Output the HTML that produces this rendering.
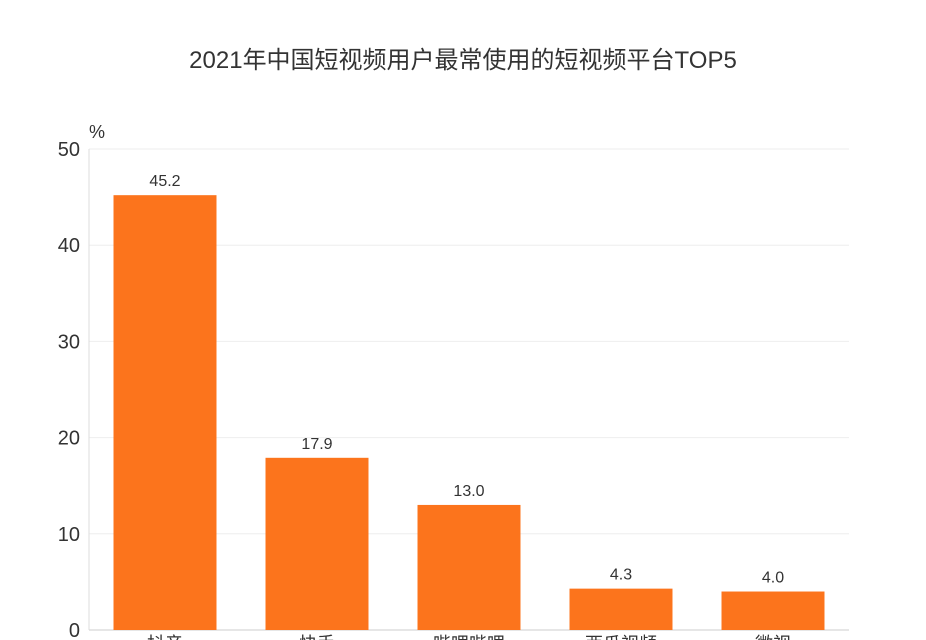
<!DOCTYPE html>
<html><head><meta charset="utf-8"><style>
body{margin:0;background:#fff;}
svg{display:block;font-family:"Liberation Sans","Noto Sans CJK SC",sans-serif;}
</style></head><body>
<svg id="chart" width="926" height="640">
<text x="463" y="68" text-anchor="middle" font-size="24" fill="#333">2021年中国短视频用户最常使用的短视频平台TOP5</text>
<text x="89" y="138" font-size="18" fill="#333">%</text>
<g id="grid"></g><g id="bars"></g>
</svg>
<script>
const categories=["抖音","快手","哔哩哔哩","西瓜视频","微视"];
const values=[45.2,17.9,13.0,4.3,4.0];
const yTicks=[0,10,20,30,40,50];
const svg=document.getElementById('chart'),ns='http://www.w3.org/2000/svg';
const x0=89,x1=849,y0=630,y1=149,yMax=50;
const y=v=>y0-(v/yMax)*(y0-y1);
const bw=(x1-x0)/categories.length;
const xc=i=>x0+bw*(i+0.5);
function mk(t,a,p){const e=document.createElementNS(ns,t);for(const k in a)e.setAttribute(k,a[k]);p.appendChild(e);return e;}
const grid=document.getElementById('grid'),bars=document.getElementById('bars');
yTicks.forEach(t=>{
 const l=mk('line',{x1:x0,x2:x1,y1:y(t),y2:y(t),stroke:t===0?'#ccc':'#eee','stroke-width':1},grid);
 
 
 const tx=mk('text',{x:80,y:y(t)+7,'text-anchor':'end','font-size':20,fill:'#333'},grid);
 tx.textContent=t;
 
 
});
const ax=mk('line',{x1:x0,x2:x0,y1:y1,y2:y0,stroke:'#ddd'},grid);


categories.forEach((c,i)=>{
 const w=103;
 const r=mk('rect',{x:xc(i)-w/2,y:y(values[i]),width:w,height:y0-y(values[i]),fill:'#fc741c'},bars);
 
 
 const v=mk('text',{x:xc(i),y:y(values[i])-9,'text-anchor':'middle','font-size':16,fill:'#333'},bars);
 v.textContent=values[i].toFixed(1);
 
 
 const cl=mk('text',{x:xc(i),y:650,'text-anchor':'middle','font-size':18,fill:'#333'},bars);
 cl.textContent=c;
 
 
});
</script>
</body></html>
